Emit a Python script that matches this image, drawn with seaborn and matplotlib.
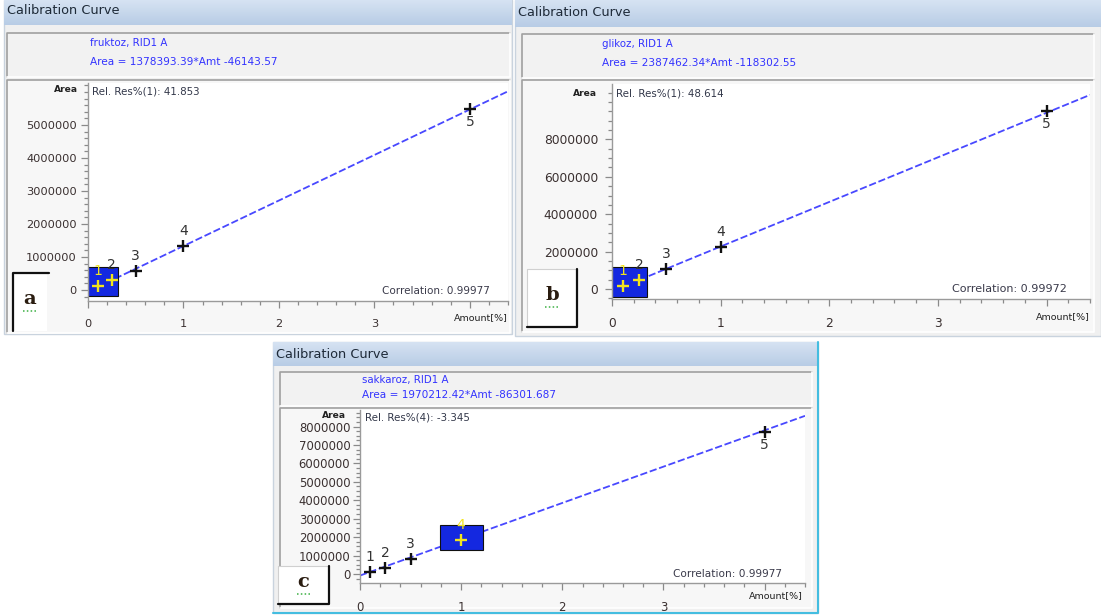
import numpy as np
import matplotlib
matplotlib.use("Agg")
import matplotlib.pyplot as plt
from matplotlib.patches import Rectangle
from matplotlib.ticker import MultipleLocator, FixedLocator, FixedFormatter
import seaborn as sns
import pandas as pd

sns.set_theme(style="white")
plt.rcParams['font.family'] = ['DejaVu Sans']

# ---------------- data ----------------
amount = [0.1, 0.25, 0.5, 1.0, 4.0]
point_labels = ["1", "2", "3", "4", "5"]

area_fruktoz = [130000, 300000, 590000, 1330000, 5480000]
area_glikoz = [180000, 470000, 1060000, 2220000, 9500000]
area_sakkaroz = [100000, 330000, 800000, 1830000, 7730000]

compounds = ["fruktoz, RID1 A", "glikoz, RID1 A", "sakkaroz, RID1 A"]
equations = ["Area = 1378393.39*Amt -46143.57",
             "Area = 2387462.34*Amt -118302.55",
             "Area = 1970212.42*Amt -86301.687"]
slopes = [1378393.39, 2387462.34, 1970212.42]
intercepts = [-46143.57, -118302.55, -86301.687]
rel_res = ["Rel. Res%(1): 41.853", "Rel. Res%(1): 48.614", "Rel. Res%(4): -3.345"]
correlations = ["Correlation: 0.99977", "Correlation: 0.99972", "Correlation: 0.99977"]
panel_letters = ["a", "b", "c"]
highlighted = [[0, 1], [0, 1], [3]]
# highlight box (x0, x1, y0, y1) in data units
highlight_boxes = [(0.0, 0.31, -180000, 700000),
                   (0.0, 0.32, -430000, 1180000),
                   (0.79, 1.22, 1300000, 2660000)]
yticks_a = [0, 1000000, 2000000, 3000000, 4000000, 5000000]
yticks_b = [0, 2000000, 4000000, 6000000, 8000000]
yticks_c = [0, 1000000, 2000000, 3000000, 4000000, 5000000, 6000000, 7000000, 8000000]
xtick_labels = ["0", "1", "2", "3", ""]
title_text = "Calibration Curve"
y_name = "Area"
x_name = "Amount[%]"

areas = [area_fruktoz, area_glikoz, area_sakkaroz]
yticks_all = [yticks_a, yticks_b, yticks_c]

# ---------------- layout (pixels) ----------------
W, H = 1101, 615
layout = [
    dict(outer=(4, 0, 512, 334), bar=(4, 0, 512, 25), header=(7, 33, 510, 77),
         frame=(7, 80, 510, 333), axes=(88, 83, 508, 301), ylim=(-333000, 6270000),
         yminor=200000, letter=(13, 273, 47, 331), hx=90, hy=(43, 62), title_y=11,
         area_xy=(78, 90), rel_xy=(92, 92), corr_xy=(490, 291), amt_xy=(508, 318),
         fs_tick=8.2, fs_corr=7.5, tick_pad=8, shadow="tl"),
    dict(outer=(515, 0, 1101, 336), bar=(515, 0, 1101, 27), header=(522, 34, 1094, 78),
         frame=(522, 80, 1094, 332), axes=(612, 84, 1090, 299), ylim=(-540000, 10970000),
         yminor=500000, letter=(527, 269, 577, 327), hx=602, hy=(44, 63), title_y=12,
         area_xy=(597, 93), rel_xy=(616, 94), corr_xy=(1067, 289), amt_xy=(1090, 317),
         fs_tick=8.8, fs_corr=8.0, tick_pad=10, shadow="br"),
    dict(outer=(273, 342, 818, 613), bar=(273, 342, 818, 366), header=(280, 372, 812, 406),
         frame=(280, 408, 812, 608), axes=(360, 410, 805, 583), ylim=(-490000, 8900000),
         yminor=250000, letter=(278, 566, 329, 604), hx=362, hy=(380, 395), title_y=355,
         area_xy=(346, 416), rel_xy=(365, 418), corr_xy=(782, 574), amt_xy=(803, 596),
         fs_tick=8.4, fs_corr=7.6, tick_pad=7, shadow="br"),
]

fig = plt.figure(figsize=(W / 100, H / 100), dpi=100)
fig.patch.set_facecolor("white")

bg = fig.add_axes([0, 0, 1, 1], zorder=0)
bg.set_xlim(0, W)
bg.set_ylim(H, 0)
bg.axis("off")

ov = fig.add_axes([0, 0, 1, 1], zorder=10)
ov.set_xlim(0, W)
ov.set_ylim(H, 0)
ov.axis("off")
ov.patch.set_alpha(0)


def px_rect(r):
    x0, y0, x1, y1 = r
    return [x0 / W, 1 - y1 / H, (x1 - x0) / W, (y1 - y0) / H]


def sunk_box(r, fill, z=1):
    x0, y0, x1, y1 = r
    bg.add_patch(Rectangle((x0, y0), x1 - x0, y1 - y0, facecolor=fill, edgecolor="none", zorder=z))
    bg.plot([x0, x0, x1], [y1, y0, y0], color="#a0a0a0", lw=1.2, zorder=z + 0.1)
    bg.plot([x0, x1, x1], [y1, y1, y0], color="#ffffff", lw=1.2, zorder=z + 0.1)


grad = np.linspace(0, 1, 64).reshape(-1, 1)
top_c = np.array([0.84, 0.89, 0.95])
bot_c = np.array([0.72, 0.80, 0.90])
grad_img = top_c[None, None, :] * (1 - grad[:, :, None]) + bot_c[None, None, :] * grad[:, :, None]

for i, L in enumerate(layout):
    # panel body
    x0, y0, x1, y1 = L["outer"]
    bg.add_patch(Rectangle((x0, y0), x1 - x0, y1 - y0, facecolor="#f0f0f0",
                           edgecolor="#c9d3de", lw=1, zorder=0.5))
    bx0, by0, bx1, by1 = L["bar"]
    bg.imshow(grad_img, extent=(bx0, bx1, by1, by0), aspect="auto", zorder=0.6,
              interpolation="bilinear")
    bg.text(bx0 + 3, L["title_y"], title_text, fontsize=9.3, color="#1e2a38",
            va="center", ha="left", zorder=2)
    sunk_box(L["header"], "#f2f2f2")
    bg.text(L["hx"], L["hy"][0], compounds[i], fontsize=7.4, color="#3333ff",
            va="center", ha="left", zorder=2)
    bg.text(L["hx"], L["hy"][1], equations[i], fontsize=7.6, color="#3333ff",
            va="center", ha="left", zorder=2)
    sunk_box(L["frame"], "#f7f7f7")

    # letter box
    lx0, ly0, lx1, ly1 = L["letter"]
    bg.add_patch(Rectangle((lx0, ly0), lx1 - lx0, ly1 - ly0, facecolor="white",
                           edgecolor="none", zorder=3))
    if L["shadow"] == "tl":
        bg.plot([lx0, lx0, lx1 + 2], [ly1, ly0, ly0], color="#111111", lw=1.6, zorder=3.2)
    else:
        bg.plot([lx0, lx0, lx1], [ly1, ly0, ly0], color="#d0d0d0", lw=0.8, zorder=3.1)
        bg.plot([lx0, lx1, lx1], [ly1, ly1, ly0], color="#111111", lw=1.6, zorder=3.2)
    cx = (lx0 + lx1) / 2
    cy = (ly0 + ly1) / 2 - 3
    bg.text(cx, cy, panel_letters[i], fontsize=14, fontweight="bold", family="DejaVu Serif",
            color="#2a1c10", ha="center", va="center", zorder=4)
    bg.plot([cx - 7, cx + 7], [cy + 12, cy + 12], color="#3cb043", lw=1.1,
            linestyle=(0, (1, 1.5)), zorder=4)

    # y and x names
    ov.text(L["area_xy"][0], L["area_xy"][1], y_name, fontsize=6.6, color="#222222",
            ha="right", va="center", fontweight="bold")
    ov.text(L["rel_xy"][0], L["rel_xy"][1], rel_res[i], fontsize=7.4, color="#33384a",
            ha="left", va="center")
    ov.text(L["corr_xy"][0], L["corr_xy"][1], correlations[i], fontsize=L["fs_corr"],
            color="#3a3a4a", ha="right", va="center")
    ov.text(L["amt_xy"][0], L["amt_xy"][1], x_name, fontsize=6.8, color="#222222",
            ha="right", va="center")

    # ---- plot axes ----
    ax = fig.add_axes(px_rect(L["axes"]), zorder=5)
    ax.set_facecolor("white")
    xl = [0.0, 4.4]
    df_line = pd.DataFrame({"Amount": xl,
                            "Area": [slopes[i] * v + intercepts[i] for v in xl]})
    sns.lineplot(data=df_line, x="Amount", y="Area", ax=ax, color="#4848ff",
                 lw=1.3, linestyle=(0, (4, 1.5)), zorder=1)
    hb = highlight_boxes[i]
    ax.add_patch(Rectangle((hb[0], hb[2]), hb[1] - hb[0], hb[3] - hb[2],
                           facecolor="#1428e0", edgecolor="#101010", lw=0.8, zorder=2))
    df = pd.DataFrame({"Amount": amount, "Area": areas[i], "label": point_labels})
    df["hl"] = [k in highlighted[i] for k in range(len(amount))]
    sns.scatterplot(data=df[~df["hl"]], x="Amount", y="Area", ax=ax, marker="+",
                    s=85, color="#111111", linewidth=1.7, zorder=3)
    sns.scatterplot(data=df[df["hl"]], x="Amount", y="Area", ax=ax, marker="+",
                    s=85, color="#f2e41c", linewidth=1.7, zorder=3.5)
    for k, row in df.iterrows():
        col = "#f2e41c" if row["hl"] and (i == 2 or k == 0) else "#333333"
        if k == 4:
            ax.annotate(row["label"], (row["Amount"], row["Area"]), xytext=(0, -6),
                        textcoords="offset pixels", ha="center", va="top",
                        fontsize=10, color="#3a3a3a", zorder=4)
        else:
            ax.annotate(row["label"], (row["Amount"], row["Area"]), xytext=(0, 8),
                        textcoords="offset pixels", ha="center", va="bottom",
                        fontsize=10, color=col, zorder=4)
    ax.set_xlim(0, 4.4)
    ax.set_ylim(*L["ylim"])
    ax.set_xlabel("")
    ax.set_ylabel("")
    ax.xaxis.set_major_locator(FixedLocator([0, 1, 2, 3, 4]))
    ax.xaxis.set_major_formatter(FixedFormatter(xtick_labels))
    ax.xaxis.set_minor_locator(MultipleLocator(0.2))
    yt = yticks_all[i]
    ax.yaxis.set_major_locator(FixedLocator(yt))
    ax.yaxis.set_major_formatter(FixedFormatter([str(v) for v in yt]))
    ax.yaxis.set_minor_locator(MultipleLocator(L["yminor"]))
    ax.tick_params(which="both", bottom=True, left=True, top=False, right=False,
                   direction="out", color="#8a8a8a", width=0.9)
    ax.tick_params(which="major", length=5, labelsize=L["fs_tick"], labelcolor="#3a3030")
    ax.tick_params(axis="y", which="major", pad=L["tick_pad"] - 5)
    ax.tick_params(axis="x", which="major", pad=8)
    ax.tick_params(which="minor", length=3)
    for s in ["top", "right"]:
        ax.spines[s].set_visible(False)
    for s in ["left", "bottom"]:
        ax.spines[s].set_color("#9a9a9a")
        ax.spines[s].set_linewidth(1.0)

# cyan border of the lower window
ov.plot([273, 818, 818], [613, 613, 342], color="#44bde0", lw=1.5)

fig.savefig("out.png", dpi=100)
